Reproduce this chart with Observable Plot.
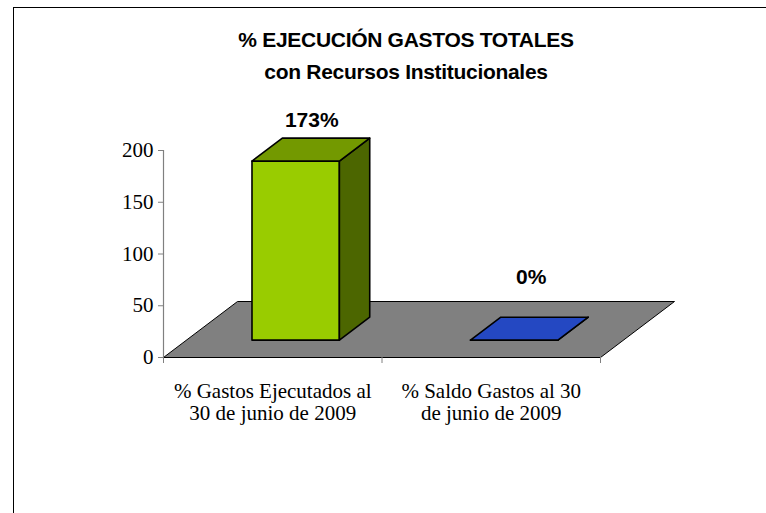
<!DOCTYPE html>
<html>
<head>
<meta charset="utf-8">
<script src="https://cdn.jsdelivr.net/npm/d3@7"></script>
<script src="https://cdn.jsdelivr.net/npm/@observablehq/plot@0.6"></script>
<style>
  html, body { margin: 0; padding: 0; background: #fff; overflow: hidden; }
  #page { position: relative; width: 766px; height: 513px; overflow: hidden; }
  #frame { position: absolute; left: 13px; top: 7px; width: 900px; height: 700px;
           border-left: 1.5px solid #000; border-top: 1.5px solid #000; }
  #title { position: relative; height: 100px; box-sizing: border-box; padding-top: 24px;
           font-family: "Liberation Sans", Arial, sans-serif; font-weight: bold; font-size: 21px;
           letter-spacing: -0.3px; line-height: 32px; text-align: center; padding-left: 46px; color: #000; }
  #chart { position: relative; }
  #chart svg { overflow: visible; }
</style>
</head>
<body>
<div id="page">
  <div id="frame"></div>
  <div id="title">% EJECUCIÓN GASTOS TOTALES<br>con Recursos Institucionales</div>
  <div id="chart"></div>
</div>
<script>
// ---- data ----
const categories = ["% Gastos Ejecutados al\n30 de junio de 2009", "% Saldo Gastos al 30\nde junio de 2009"];
const values = [173, 0];
const valueLabels = ["173%", "0%"];
const yTicks = [0, 50, 100, 150, 200];
const frontColors = ["#99CC00", "#2448C2"];
const topColors = ["#739900", "#2448C2"];
const sideColors = ["#4C6600", "#1B3691"];

// ---- 3D projection (depth expressed in data units) ----
const depthX = 74 / 218.5;   // x-units shift for full floor depth
const depthY = 56 / 1.035;   // y-units shift for full floor depth
const pt = (xu, v, d) => ({x: xu + d * depthX, y: v + d * depthY});

const floor = [pt(0, 0, 0), pt(2, 0, 0), pt(2, 0, 1), pt(0, 0, 1), pt(0, 0, 0)];

const faces = [];
values.forEach((v, i) => {
  const x0 = i + 0.3, x1 = i + 0.7, d0 = 0.31, d1 = 0.72;
  const add = (id, fill, pts) => pts.forEach(p => faces.push({...p, id: id + i, fill}));
  add("front", frontColors[i], [pt(x0,0,d0), pt(x1,0,d0), pt(x1,v,d0), pt(x0,v,d0), pt(x0,0,d0)]);
  add("side", sideColors[i], [pt(x1,0,d0), pt(x1,0,d1), pt(x1,v,d1), pt(x1,v,d0), pt(x1,0,d0)]);
  add("top", topColors[i], [pt(x0,v,d0), pt(x1,v,d0), pt(x1,v,d1), pt(x0,v,d1), pt(x0,v,d0)]);
});

const bars = values.map((v, i) => ({x: i + 0.5, v, label: valueLabels[i], cat: categories[i]}));

const chart = Plot.plot({
  width: 766,
  height: 413,
  marginLeft: 163,
  marginRight: 166,
  marginTop: 50,
  marginBottom: 156,
  x: {domain: [0, 2]},
  y: {domain: [0, 200]},
  color: {type: "identity"},
  style: {fontFamily: "'Liberation Serif', 'Times New Roman', serif", fontSize: "21px", background: "transparent", color: "black"},
  marks: [
    Plot.line(floor, {x: "x", y: "y", fill: "#808080", stroke: "black", strokeWidth: 1}),
    Plot.line(faces, {x: "x", y: "y", z: "id", fill: "fill", stroke: "black", strokeWidth: 1.6, strokeLinejoin: "round"}),
    Plot.ruleX([0], {y1: 0, y2: 200, stroke: "#808080", strokeWidth: 1.2}),
    Plot.ruleY([0], {x1: 0, x2: 2, stroke: "black", strokeWidth: 1.2}),
    Plot.axisY({ticks: yTicks, tickSize: 5, tickPadding: 5, stroke: "#808080", fill: "black", label: null, fontSize: 21}),
    Plot.axisX({ticks: [0, 1, 2], tickSize: 6, tickFormat: () => "", stroke: "#808080", label: null}),
    Plot.text(bars, {x: "x", y: 0, text: "cat", lineAnchor: "top", dy: 24, lineHeight: 1.08, fontSize: 21, fill: "black"}),
    Plot.text(bars.filter(d => d.v > 0), {x: "x", y: "v", text: "label", dx: 39, dy: -58, fontFamily: "'Liberation Sans', Arial, sans-serif", fontWeight: "bold", fontSize: 21, fill: "black"}),
    Plot.text(bars.filter(d => d.v === 0), {x: "x", y: "v", text: "label", dx: 40, dy: -80, fontFamily: "'Liberation Sans', Arial, sans-serif", fontWeight: "bold", fontSize: 21, fill: "black"})
  ]
});
document.getElementById("chart").appendChild(chart);
</script>
</body>
</html>
